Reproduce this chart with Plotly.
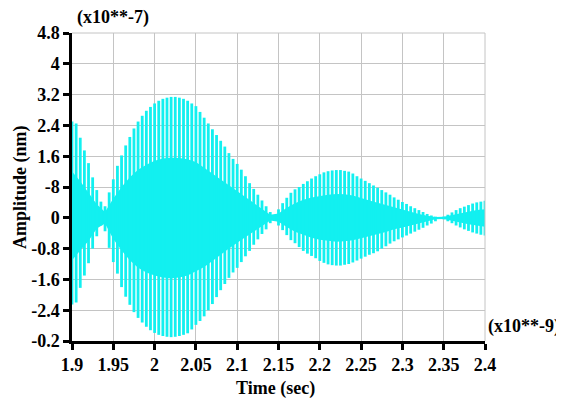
import plotly.graph_objects as go

# ---- data (time in 1e-9 s, amplitude in 1e-7 nm) ----
t_spk = [1.900, 1.905, 1.910, 1.915, 1.920, 1.925, 1.930, 1.935, 1.940, 1.945,
         1.950, 1.955, 1.960, 1.965, 1.970, 1.975, 1.980, 1.985, 1.990, 1.995,
         2.000, 2.005, 2.010, 2.015, 2.020, 2.025, 2.030, 2.035, 2.040, 2.045,
         2.050, 2.055, 2.060, 2.065, 2.070, 2.075, 2.080, 2.085, 2.090, 2.095,
         2.100, 2.105, 2.110, 2.115, 2.120, 2.125, 2.130, 2.135, 2.140, 2.145,
         2.150, 2.155, 2.160, 2.165, 2.170, 2.175, 2.180, 2.185, 2.190, 2.195,
         2.200, 2.205, 2.210, 2.215, 2.220, 2.225, 2.230, 2.235, 2.240, 2.245,
         2.250, 2.255, 2.260, 2.265, 2.270, 2.275, 2.280, 2.285, 2.290, 2.295,
         2.300, 2.305, 2.310, 2.315, 2.320, 2.325, 2.330, 2.335, 2.340, 2.345,
         2.350, 2.355, 2.360, 2.365, 2.370, 2.375, 2.380, 2.385, 2.390, 2.395,
         2.400]

upper_env = [2.50, 2.45, 2.08, 1.75, 1.42, 1.05, 0.72, 0.42, 0.30, 0.66,
             1.00, 1.35, 1.62, 1.88, 2.10, 2.32, 2.50, 2.65, 2.78, 2.88,
             2.97, 3.04, 3.09, 3.12, 3.14, 3.14, 3.12, 3.09, 3.04, 2.97,
             2.90, 2.75, 2.60, 2.45, 2.30, 2.15, 2.00, 1.85, 1.68, 1.53,
             1.40, 1.25, 1.08, 0.90, 0.75, 0.60, 0.45, 0.30, 0.15, 0.05,
             0.22, 0.38, 0.52, 0.65, 0.74, 0.80, 0.88, 0.95, 1.02, 1.08,
             1.13, 1.18, 1.21, 1.23, 1.24, 1.24, 1.22, 1.20, 1.15, 1.08,
             1.02, 0.96, 0.90, 0.84, 0.78, 0.72, 0.66, 0.60, 0.53, 0.47,
             0.41, 0.36, 0.30, 0.25, 0.20, 0.15, 0.10, 0.06, 0.03, 0.02,
             0.03, 0.08, 0.14, 0.20, 0.25, 0.29, 0.33, 0.37, 0.40, 0.42,
             0.44]

lower_env = [-2.25, -2.20, -1.82, -1.50, -1.18, -0.80, -0.48, -0.20, -0.35, -0.78,
             -1.15, -1.45, -1.80, -2.05, -2.26, -2.45, -2.60, -2.72, -2.83, -2.92,
             -2.99, -3.04, -3.07, -3.09, -3.10, -3.09, -3.07, -3.04, -3.00, -2.90,
             -2.78, -2.68, -2.56, -2.40, -2.24, -2.06, -1.88, -1.72, -1.56, -1.42,
             -1.30, -1.15, -1.00, -0.86, -0.70, -0.56, -0.42, -0.30, -0.14, -0.06,
             -0.20, -0.32, -0.45, -0.58, -0.66, -0.76, -0.86, -0.93, -0.99, -1.05,
             -1.12, -1.17, -1.21, -1.23, -1.24, -1.24, -1.22, -1.20, -1.16, -1.11,
             -1.06, -1.01, -0.96, -0.92, -0.87, -0.80, -0.74, -0.67, -0.61, -0.56,
             -0.51, -0.46, -0.41, -0.36, -0.31, -0.26, -0.20, -0.15, -0.09, -0.03,
             -0.04, -0.09, -0.14, -0.20, -0.25, -0.30, -0.34, -0.38, -0.41, -0.44,
             -0.46]

t_inner = [1.90, 1.91, 1.92, 1.93, 1.94, 1.95, 1.96, 1.97, 1.98, 1.99,
           2.00, 2.01, 2.02, 2.03, 2.04, 2.05, 2.06, 2.07, 2.08, 2.09,
           2.10, 2.11, 2.12, 2.13, 2.14, 2.15, 2.16, 2.17, 2.18, 2.19,
           2.20, 2.21, 2.22, 2.23, 2.24, 2.25, 2.26, 2.27, 2.28, 2.29,
           2.30, 2.31, 2.32, 2.33, 2.34, 2.35, 2.36, 2.37, 2.38, 2.39,
           2.40]
inner_up = [1.20, 0.95, 0.65, 0.35, 0.15, 0.50, 0.80, 1.05, 1.25, 1.38,
            1.48, 1.54, 1.56, 1.55, 1.52, 1.45, 1.30, 1.15, 1.00, 0.84,
            0.70, 0.54, 0.38, 0.23, 0.08, 0.11, 0.26, 0.38, 0.47, 0.53,
            0.57, 0.60, 0.62, 0.61, 0.58, 0.51, 0.45, 0.39, 0.33, 0.27,
            0.20, 0.15, 0.10, 0.05, 0.02, 0.03, 0.07, 0.12, 0.16, 0.20,
            0.22]
inner_lo = [-1.10, -0.85, -0.60, -0.28, -0.15, -0.55, -0.85, -1.10, -1.30, -1.42,
            -1.50, -1.55, -1.57, -1.55, -1.50, -1.40, -1.28, -1.12, -0.95, -0.80,
            -0.65, -0.50, -0.36, -0.21, -0.07, -0.10, -0.24, -0.36, -0.45, -0.52,
            -0.57, -0.60, -0.62, -0.61, -0.58, -0.53, -0.47, -0.43, -0.37, -0.30,
            -0.25, -0.20, -0.15, -0.10, -0.04, -0.03, -0.07, -0.12, -0.17, -0.20,
            -0.23]

x_ticks = [1.9, 1.95, 2.0, 2.05, 2.1, 2.15, 2.2, 2.25, 2.3, 2.35, 2.4]
x_labels = ["1.9", "1.95", "2", "2.05", "2.1", "2.15", "2.2", "2.25", "2.3", "2.35", "2.4"]
y_ticks = [4.8, 4.0, 3.2, 2.4, 1.6, 0.8, 0.0, -0.8, -1.6, -2.4, -3.2]
y_labels = ["4.8", "4", "3.2", "2.4", "1.6", "-8", "0", "-0.8", "-1.6", "-2.4", "-0.2"]

CYAN = "#12F0F0"
FONT = "Liberation Serif"

# vertical spikes between the envelopes
xs, ys = [], []
for t, u, l in zip(t_spk, upper_env, lower_env):
    xs += [t, t, None]
    ys += [l, u, None]

fig = go.Figure()
fig.add_trace(go.Scatter(
    x=t_inner + t_inner[::-1], y=inner_up + inner_lo[::-1],
    fill="toself", fillcolor=CYAN, mode="lines", line=dict(width=0, color=CYAN),
    hoverinfo="skip", showlegend=False))
fig.add_trace(go.Scatter(
    x=xs, y=ys, mode="lines", line=dict(width=2.8, color=CYAN),
    showlegend=False))

tick_font = dict(family=FONT, size=18, color="black", weight="bold")
axis_common = dict(
    showgrid=True, gridcolor="#C4C4C4", gridwidth=1,
    showline=True, linecolor="black", linewidth=2.5,
    ticks="outside", ticklen=6, tickwidth=2.5, tickcolor="black",
    tickfont=tick_font, zeroline=False, automargin=False,
)

# the page body adds an 8 px offset, so the figure is 8 px smaller each way
fig.update_layout(
    width=556, height=394,
    margin=dict(l=64, r=79, t=25, b=61),
    paper_bgcolor="white", plot_bgcolor="white",
    font=dict(family=FONT, color="black"),
    xaxis=dict(range=[1.9, 2.4], tickvals=x_ticks, ticktext=x_labels, **axis_common),
    yaxis=dict(range=[-3.2, 4.8], tickvals=y_ticks, ticktext=y_labels, **axis_common),
    shapes=[
        dict(type="line", xref="paper", yref="paper", x0=0, x1=1, y0=1, y1=1,
             line=dict(color="#C4C4C4", width=1)),
        dict(type="line", xref="paper", yref="paper", x0=1, x1=1, y0=0, y1=1,
             line=dict(color="#C4C4C4", width=1)),
    ],
    annotations=[
        dict(text="Time (sec)", xref="paper", yref="paper", x=0.493, y=0,
             yanchor="top", yshift=-35, showarrow=False,
             font=tick_font),
        dict(text="Amplitude (nm)", xref="paper", yref="paper", x=0, y=0.5,
             xanchor="center", xshift=-52, textangle=-90, showarrow=False,
             font=tick_font),
        dict(text="(x10**-7)", xref="paper", yref="paper", x=0.1, y=1,
             xanchor="center", yanchor="bottom", yshift=3, showarrow=False,
             font=tick_font),
        dict(text="(x10**-9)", xref="paper", yref="paper", x=1, y=0,
             xanchor="left", yanchor="middle", xshift=1, yshift=15, showarrow=False,
             font=tick_font),
    ],
)

fig.write_html("out.html")
